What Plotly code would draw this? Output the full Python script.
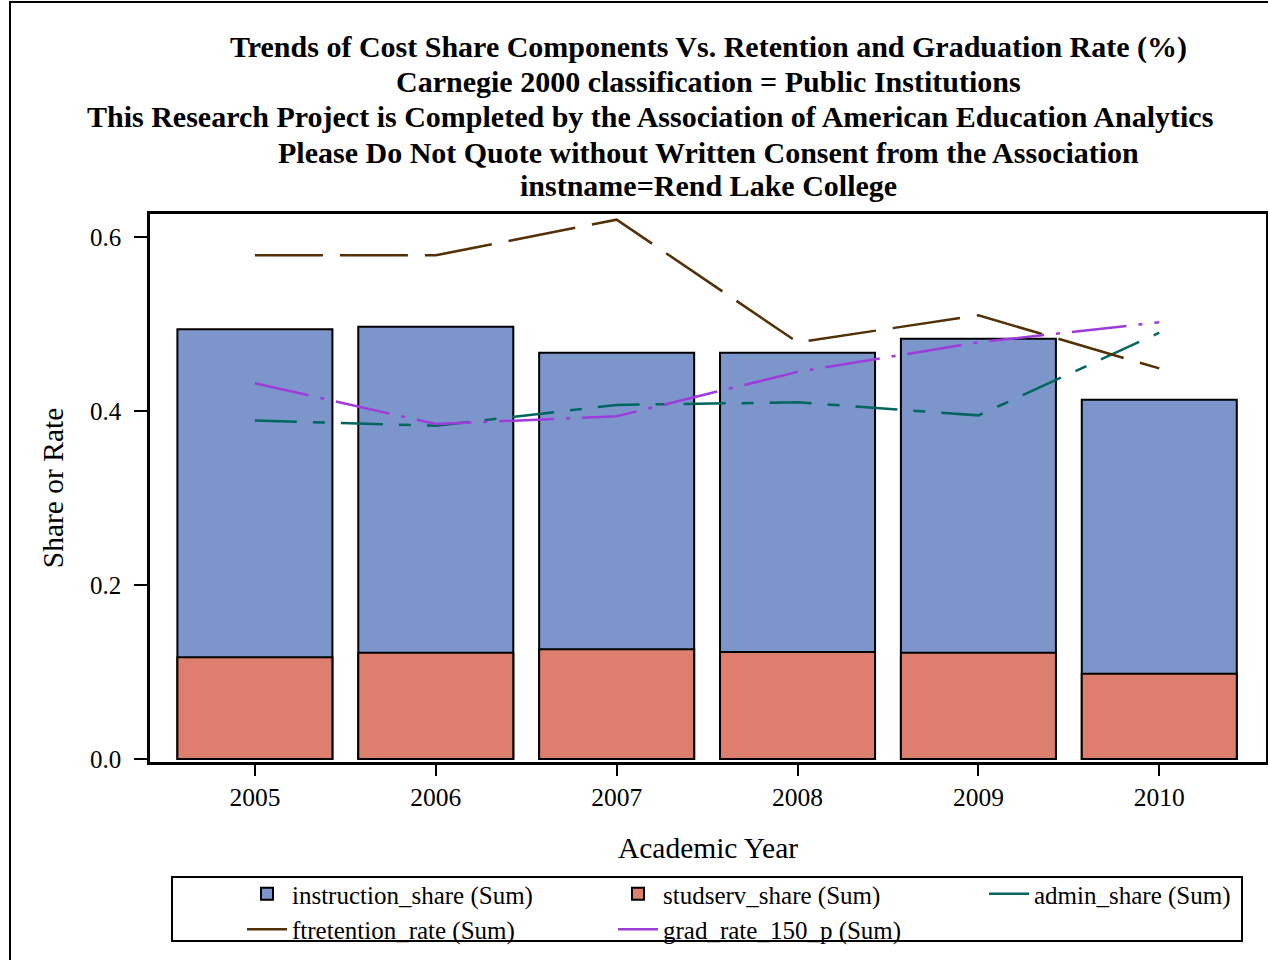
import plotly.graph_objects as go

years = [2005, 2006, 2007, 2008, 2009, 2010]
instruction_share = [0.494, 0.497, 0.467, 0.467, 0.483, 0.413]
studserv_share = [0.117, 0.122, 0.126, 0.123, 0.122, 0.098]
admin_share = [0.389, 0.383, 0.407, 0.410, 0.395, 0.490]
ftretention_rate = [0.579, 0.579, 0.620, 0.479, 0.510, 0.449]
grad_rate_150_p = [0.432, 0.385, 0.394, 0.445, 0.479, 0.502]
y_ticks = [0.0, 0.2, 0.4, 0.6]
y_tick_text = ["0.0", "0.2", "0.4", "0.6"]
title_lines = [
    "Trends of Cost Share Components Vs. Retention and Graduation Rate (%)",
    "Carnegie 2000 classification = Public Institutions",
    "This Research Project is Completed by the Association of American Education Analytics",
    "Please Do Not Quote without Written Consent from the Association",
    "instname=Rend Lake College",
]

FONT = "Liberation Serif"
W, H = 1268, 960
L, R, T, B = 150, 2, 214, 198
pw, ph = W - L - R, H - T - B

def px(x):
    return (x - L) / pw

def py(y):
    return (H - B - y) / ph

fig = go.Figure()
fig.add_trace(go.Bar(x=years, y=instruction_share, name="instruction_share (Sum)",
                     width=0.857, marker=dict(color="#7C95CA", line=dict(color="black", width=2))))
fig.add_trace(go.Bar(x=years, y=studserv_share, name="studserv_share (Sum)",
                     width=0.857, marker=dict(color="#DE7E6F", line=dict(color="black", width=2))))
fig.add_trace(go.Scatter(x=years, y=admin_share, name="admin_share (Sum)", mode="lines",
                         line=dict(color="#01665E", width=2.5, dash="42px,16px,12px,16px")))
fig.add_trace(go.Scatter(x=years, y=ftretention_rate, name="ftretention_rate (Sum)", mode="lines",
                         line=dict(color="#543005", width=2.5, dash="68px,17px")))
fig.add_trace(go.Scatter(x=years, y=grad_rate_150_p, name="grad_rate_150_p (Sum)", mode="lines",
                         line=dict(color="#9D3CDB", width=2.5, dash="55px,12px,4px,12px")))

title_y = [47, 82, 117, 152, 186]
title_x = [708, 708, 650, 708, 708]
annotations = [
    dict(text="<b>" + t + "</b>", xref="paper", yref="paper", x=px(xx), y=py(yy),
         xanchor="center", yanchor="middle", showarrow=False,
         font=dict(family=FONT, size=30, color="black"))
    for t, xx, yy in zip(title_lines, title_x, title_y)
]

fig.update_layout(
    width=W, height=H,
    margin=dict(l=L, r=R, t=T, b=B, autoexpand=False),
    paper_bgcolor="white", plot_bgcolor="white",
    barmode="overlay",
    font=dict(family=FONT, color="black", size=25),
    annotations=annotations,
    xaxis=dict(range=[2004.42, 2010.59], tickmode="array", tickvals=years,
               ticktext=[str(y) for y in years], ticks="outside", ticklen=11, tickwidth=2,
               tickcolor="black", showline=True, linecolor="black", linewidth=2.5, mirror=True,
               showgrid=False, zeroline=False, tickfont=dict(size=25.5),
               title=dict(text="Academic Year", font=dict(size=29.5), standoff=27)),
    yaxis=dict(range=[-0.0035, 0.6265], tickmode="array", tickvals=y_ticks, ticktext=y_tick_text,
               ticks="outside", ticklen=13, tickwidth=2, tickcolor="black",
               showline=True, linecolor="black", linewidth=2.5, mirror=True,
               showgrid=False, zeroline=False, tickfont=dict(size=25), ticklabelstandoff=8,
               title=dict(text="Share or Rate", font=dict(size=29.5), standoff=18)),
    legend=dict(orientation="h", x=px(242), y=py(871), xanchor="left", yanchor="top",
                xref="paper", yref="paper", entrywidth=316, entrywidthmode="pixels",
                font=dict(size=25, family=FONT), bgcolor="rgba(0,0,0,0)", borderwidth=0,
                traceorder="normal", itemwidth=40, tracegroupgap=0),
    shapes=[
        dict(type="rect", xref="paper", yref="paper", x0=px(172), x1=px(1242),
             y0=py(877), y1=py(941), line=dict(color="black", width=2), fillcolor="rgba(0,0,0,0)"),
        dict(type="rect", xref="paper", yref="paper", x0=px(10), x1=px(1290),
             y0=py(2), y1=py(975), line=dict(color="black", width=2), fillcolor="rgba(0,0,0,0)"),
    ],
)

fig.write_html("out.html", config={"displayModeBar": False},
               post_script="document.body.style.margin='0px';")
